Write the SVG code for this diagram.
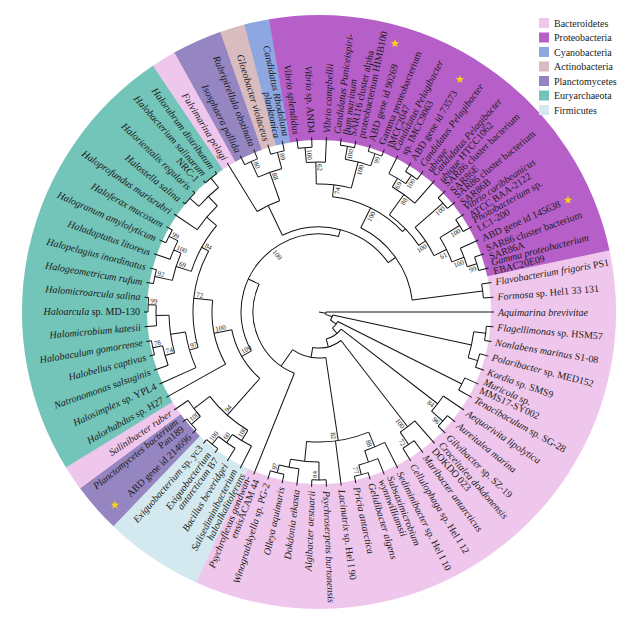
<svg xmlns="http://www.w3.org/2000/svg" width="633" height="632" viewBox="0 0 633 632">
<style>
.L{font-family:"Liberation Serif","Times New Roman",serif;font-size:10px;fill:#1a1a1a}
.R{text-anchor:end}
.i{font-style:italic}
.bs{font-family:"Liberation Serif","Times New Roman",serif;font-size:7px;fill:#1a1a1a}
.be{text-anchor:end}
#connectors line,#connectors circle{stroke:#111;stroke-width:1;fill:none}
.lg{font-family:"Liberation Serif","Times New Roman",serif;font-size:10px;fill:#222}
</style>
<defs>
<polygon id="star" points="0,-4.5 1.06,-1.46 4.28,-1.39 1.71,0.56 2.65,3.64 0,1.8 -2.65,3.64 -1.71,0.56 -4.28,-1.39 -1.06,-1.46" fill="#f7d417"/>
</defs>
<rect width="633" height="632" fill="#fff"/>
<g transform="translate(319,312)">
<g id="clades" fill="none" stroke-width="125">
<circle r="234.5" stroke="#f0c7ec" stroke-dasharray="518.2 2000" transform="rotate(-12.14)"/>
<circle r="234.5" stroke="#d3e9ef" stroke-dasharray="80.1 2000" transform="rotate(114.36)"/>
<circle r="234.5" stroke="#9585c0" stroke-dasharray="40.2 2000" transform="rotate(133.82)"/>
<circle r="234.5" stroke="#f0c7ec" stroke-dasharray="20.3 2000" transform="rotate(143.55)"/>
<circle r="234.5" stroke="#73c4b9" stroke-dasharray="358.8 2000" transform="rotate(148.42)"/>
<circle r="234.5" stroke="#f0c7ec" stroke-dasharray="20.3 2000" transform="rotate(235.99)"/>
<circle r="234.5" stroke="#9585c0" stroke-dasharray="40.2 2000" transform="rotate(240.85)"/>
<circle r="234.5" stroke="#d9bcbf" stroke-dasharray="20.3 2000" transform="rotate(250.58)"/>
<circle r="234.5" stroke="#8fa7e0" stroke-dasharray="20.3 2000" transform="rotate(255.45)"/>
<circle r="234.5" stroke="#b65fc8" stroke-dasharray="358.7 2000" transform="rotate(260.31)"/>
</g>
<g id="connectors">
<line x1="0" x2="7" transform="rotate(10)"/>
<circle r="7" stroke-dasharray="2.44 2000" transform="rotate(0)"/>
<circle r="14" stroke-dasharray="5.58 2000" transform="rotate(12.17)"/>
<circle r="21" stroke-dasharray="8.52 2000" transform="rotate(26.76)"/>
<circle r="28" stroke-dasharray="18.22 2000" transform="rotate(37.71)"/>
<circle r="36" stroke-dasharray="29.97 2000" transform="rotate(52.3)"/>
<circle r="46" stroke-dasharray="34.92 2000" transform="rotate(81.5)"/>
<circle r="66" stroke-dasharray="107.24 2000" transform="rotate(111.9)"/>
<circle r="78" stroke-dasharray="182.97 2000" transform="rotate(150.11)"/>
<circle r="89" stroke-dasharray="57.27 2000" transform="rotate(131.67)"/>
<circle r="85" stroke-dasharray="118.8 2000" transform="rotate(244.47)"/>
<circle r="94" stroke-dasharray="92.4 2000" transform="rotate(296.39)"/>
<circle r="116" stroke-dasharray="79.73 2000" transform="rotate(276.7)"/>
<circle r="120" stroke-dasharray="42.68 2000" transform="rotate(305.89)"/>
<circle r="165" stroke-dasharray="14.02 2000" transform="rotate(350.27)"/>
<circle r="165" stroke-dasharray="14.02 2000" transform="rotate(262.71)"/>
<circle r="150" stroke-dasharray="19.09 2000" transform="rotate(265.15)"/>
<circle r="168" stroke-dasharray="14.25 2000" transform="rotate(277.31)"/>
<circle r="168" stroke-dasharray="14.25 2000" transform="rotate(287.04)"/>
<circle r="155" stroke-dasharray="26.32 2000" transform="rotate(279.74)"/>
<circle r="128" stroke-dasharray="35.34 2000" transform="rotate(268.79)"/>
<circle r="165" stroke-dasharray="14.02 2000" transform="rotate(301.63)"/>
<circle r="155" stroke-dasharray="19.75 2000" transform="rotate(296.77)"/>
<circle r="145" stroke-dasharray="27.69 2000" transform="rotate(300.42)"/>
<circle r="165" stroke-dasharray="14 2000" transform="rotate(316.23)"/>
<circle r="165" stroke-dasharray="14 2000" transform="rotate(325.96)"/>
<circle r="165" stroke-dasharray="14.02 2000" transform="rotate(340.55)"/>
<circle r="155" stroke-dasharray="19.75 2000" transform="rotate(335.69)"/>
<circle r="142" stroke-dasharray="27.14 2000" transform="rotate(328.39)"/>
<circle r="128" stroke-dasharray="33.98 2000" transform="rotate(318.66)"/>
<circle r="165" stroke-dasharray="14.02 2000" transform="rotate(243.25)"/>
<circle r="165" stroke-dasharray="14.02 2000" transform="rotate(252.98)"/>
<circle r="148" stroke-dasharray="25.13 2000" transform="rotate(245.69)"/>
<circle r="118" stroke-dasharray="25.04 2000" transform="rotate(238.39)"/>
<circle r="107" stroke-dasharray="66.17 2000" transform="rotate(150.82)"/>
<circle r="126" stroke-dasharray="99.64 2000" transform="rotate(163.59)"/>
<circle r="135" stroke-dasharray="37.27 2000" transform="rotate(155.68)"/>
<circle r="150" stroke-dasharray="38.2 2000" transform="rotate(164.2)"/>
<circle r="160" stroke-dasharray="20.39 2000" transform="rotate(160.55)"/>
<circle r="170" stroke-dasharray="14.45 2000" transform="rotate(165.41)"/>
<circle r="163" stroke-dasharray="20.77 2000" transform="rotate(175.14)"/>
<circle r="171" stroke-dasharray="14.5 2000" transform="rotate(180.01)"/>
<circle r="134" stroke-dasharray="52.62 2000" transform="rotate(197.65)"/>
<circle r="150" stroke-dasharray="28.67 2000" transform="rotate(192.17)"/>
<circle r="168" stroke-dasharray="14.25 2000" transform="rotate(189.74)"/>
<circle r="158" stroke-dasharray="20.13 2000" transform="rotate(199.47)"/>
<circle r="168" stroke-dasharray="14.28 2000" transform="rotate(204.33)"/>
<circle r="147" stroke-dasharray="31.22 2000" transform="rotate(214.06)"/>
<circle r="160" stroke-dasharray="27.17 2000" transform="rotate(221.36)"/>
<circle r="172" stroke-dasharray="14.59 2000" transform="rotate(218.93)"/>
<circle r="172" stroke-dasharray="14.59 2000" transform="rotate(228.66)"/>
<circle r="138" stroke-dasharray="51.28 2000" transform="rotate(121.02)"/>
<circle r="150" stroke-dasharray="22.31 2000" transform="rotate(116.76)"/>
<circle r="160" stroke-dasharray="20.39 2000" transform="rotate(121.63)"/>
<circle r="170" stroke-dasharray="14.45 2000" transform="rotate(126.49)"/>
<circle r="158" stroke-dasharray="20.1 2000" transform="rotate(138.66)"/>
<circle r="170" stroke-dasharray="14.45 2000" transform="rotate(136.22)"/>
<circle r="156" stroke-dasharray="26.49 2000" transform="rotate(7.3)"/>
<circle r="168" stroke-dasharray="14.25 2000" transform="rotate(4.87)"/>
<circle r="166" stroke-dasharray="14.08 2000" transform="rotate(14.6)"/>
<circle r="160" stroke-dasharray="13.57 2000" transform="rotate(24.33)"/>
<circle r="150" stroke-dasharray="19.11 2000" transform="rotate(34.06)"/>
<circle r="165" stroke-dasharray="14.02 2000" transform="rotate(38.92)"/>
<circle r="145" stroke-dasharray="18.47 2000" transform="rotate(48.65)"/>
<circle r="160" stroke-dasharray="13.57 2000" transform="rotate(53.52)"/>
<circle r="130" stroke-dasharray="63.46 2000" transform="rotate(67.51)"/>
<circle r="146" stroke-dasharray="21.69 2000" transform="rotate(63.25)"/>
<circle r="158" stroke-dasharray="20.13 2000" transform="rotate(68.11)"/>
<circle r="168" stroke-dasharray="14.25 2000" transform="rotate(72.98)"/>
<circle r="150" stroke-dasharray="28.64 2000" transform="rotate(90.01)"/>
<circle r="168" stroke-dasharray="14.28 2000" transform="rotate(87.57)"/>
<circle r="158" stroke-dasharray="20.13 2000" transform="rotate(97.3)"/>
<circle r="166" stroke-dasharray="14.08 2000" transform="rotate(102.17)"/>
<line x1="7" x2="175" transform="rotate(0)"/>
<line x1="7" x2="14" transform="rotate(20)"/>
<line x1="14" x2="156" transform="rotate(12.17)"/>
<line x1="14" x2="21" transform="rotate(35)"/>
<line x1="21" x2="160" transform="rotate(26.76)"/>
<line x1="21" x2="28" transform="rotate(50)"/>
<line x1="28" x2="150" transform="rotate(37.71)"/>
<line x1="28" x2="36" transform="rotate(75)"/>
<line x1="36" x2="145" transform="rotate(52.3)"/>
<line x1="36" x2="46" transform="rotate(100)"/>
<line x1="46" x2="130" transform="rotate(81.5)"/>
<line x1="46" x2="66" transform="rotate(125)"/>
<line x1="66" x2="175" transform="rotate(111.9)"/>
<line x1="66" x2="78" transform="rotate(205)"/>
<line x1="78" x2="89" transform="rotate(150.11)"/>
<line x1="78" x2="85" transform="rotate(284.51)"/>
<line x1="89" x2="138" transform="rotate(131.67)"/>
<line x1="89" x2="107" transform="rotate(168.54)"/>
<line x1="85" x2="118" transform="rotate(244.47)"/>
<line x1="85" x2="94" transform="rotate(324.55)"/>
<line x1="94" x2="116" transform="rotate(296.39)"/>
<line x1="94" x2="165" transform="rotate(352.71)"/>
<line x1="165" x2="175" transform="rotate(350.27)"/>
<line x1="165" x2="175" transform="rotate(355.14)"/>
<line x1="116" x2="128" transform="rotate(276.7)"/>
<line x1="116" x2="120" transform="rotate(316.08)"/>
<line x1="128" x2="150" transform="rotate(268.79)"/>
<line x1="128" x2="155" transform="rotate(284.61)"/>
<line x1="150" x2="165" transform="rotate(265.15)"/>
<line x1="150" x2="175" transform="rotate(272.44)"/>
<line x1="165" x2="175" transform="rotate(262.71)"/>
<line x1="165" x2="175" transform="rotate(267.58)"/>
<line x1="155" x2="168" transform="rotate(279.74)"/>
<line x1="155" x2="168" transform="rotate(289.47)"/>
<line x1="168" x2="175" transform="rotate(277.31)"/>
<line x1="168" x2="175" transform="rotate(282.17)"/>
<line x1="168" x2="175" transform="rotate(287.04)"/>
<line x1="168" x2="175" transform="rotate(291.9)"/>
<line x1="120" x2="145" transform="rotate(305.89)"/>
<line x1="120" x2="128" transform="rotate(326.27)"/>
<line x1="145" x2="155" transform="rotate(300.42)"/>
<line x1="145" x2="175" transform="rotate(311.36)"/>
<line x1="155" x2="175" transform="rotate(296.77)"/>
<line x1="155" x2="165" transform="rotate(304.07)"/>
<line x1="165" x2="175" transform="rotate(301.63)"/>
<line x1="165" x2="175" transform="rotate(306.5)"/>
<line x1="128" x2="165" transform="rotate(318.66)"/>
<line x1="128" x2="142" transform="rotate(333.87)"/>
<line x1="165" x2="175" transform="rotate(316.23)"/>
<line x1="165" x2="175" transform="rotate(321.09)"/>
<line x1="142" x2="165" transform="rotate(328.39)"/>
<line x1="142" x2="155" transform="rotate(339.34)"/>
<line x1="165" x2="175" transform="rotate(325.96)"/>
<line x1="165" x2="175" transform="rotate(330.82)"/>
<line x1="155" x2="175" transform="rotate(335.69)"/>
<line x1="155" x2="165" transform="rotate(342.99)"/>
<line x1="165" x2="175" transform="rotate(340.55)"/>
<line x1="165" x2="175" transform="rotate(345.42)"/>
<line x1="118" x2="175" transform="rotate(238.39)"/>
<line x1="118" x2="148" transform="rotate(250.55)"/>
<line x1="148" x2="165" transform="rotate(245.69)"/>
<line x1="148" x2="165" transform="rotate(255.42)"/>
<line x1="165" x2="175" transform="rotate(243.25)"/>
<line x1="165" x2="175" transform="rotate(248.12)"/>
<line x1="165" x2="175" transform="rotate(252.98)"/>
<line x1="165" x2="175" transform="rotate(257.85)"/>
<line x1="107" x2="175" transform="rotate(150.82)"/>
<line x1="107" x2="126" transform="rotate(186.25)"/>
<line x1="126" x2="135" transform="rotate(163.59)"/>
<line x1="126" x2="134" transform="rotate(208.9)"/>
<line x1="135" x2="175" transform="rotate(155.68)"/>
<line x1="135" x2="150" transform="rotate(171.5)"/>
<line x1="150" x2="160" transform="rotate(164.2)"/>
<line x1="150" x2="163" transform="rotate(178.79)"/>
<line x1="160" x2="175" transform="rotate(160.55)"/>
<line x1="160" x2="170" transform="rotate(167.85)"/>
<line x1="170" x2="175" transform="rotate(165.41)"/>
<line x1="170" x2="175" transform="rotate(170.28)"/>
<line x1="163" x2="175" transform="rotate(175.14)"/>
<line x1="163" x2="171" transform="rotate(182.44)"/>
<line x1="171" x2="175" transform="rotate(180.01)"/>
<line x1="171" x2="175" transform="rotate(184.87)"/>
<line x1="134" x2="150" transform="rotate(197.65)"/>
<line x1="134" x2="147" transform="rotate(220.15)"/>
<line x1="150" x2="168" transform="rotate(192.17)"/>
<line x1="150" x2="158" transform="rotate(203.12)"/>
<line x1="168" x2="175" transform="rotate(189.74)"/>
<line x1="168" x2="175" transform="rotate(194.6)"/>
<line x1="158" x2="175" transform="rotate(199.47)"/>
<line x1="158" x2="168" transform="rotate(206.77)"/>
<line x1="168" x2="175" transform="rotate(204.33)"/>
<line x1="168" x2="175" transform="rotate(209.2)"/>
<line x1="147" x2="175" transform="rotate(214.06)"/>
<line x1="147" x2="160" transform="rotate(226.23)"/>
<line x1="160" x2="172" transform="rotate(221.36)"/>
<line x1="160" x2="172" transform="rotate(231.09)"/>
<line x1="172" x2="175" transform="rotate(218.93)"/>
<line x1="172" x2="175" transform="rotate(223.79)"/>
<line x1="172" x2="175" transform="rotate(228.66)"/>
<line x1="172" x2="175" transform="rotate(233.52)"/>
<line x1="138" x2="150" transform="rotate(121.02)"/>
<line x1="138" x2="158" transform="rotate(142.31)"/>
<line x1="150" x2="175" transform="rotate(116.76)"/>
<line x1="150" x2="160" transform="rotate(125.28)"/>
<line x1="160" x2="175" transform="rotate(121.63)"/>
<line x1="160" x2="170" transform="rotate(128.93)"/>
<line x1="170" x2="175" transform="rotate(126.49)"/>
<line x1="170" x2="175" transform="rotate(131.36)"/>
<line x1="158" x2="170" transform="rotate(138.66)"/>
<line x1="158" x2="175" transform="rotate(145.95)"/>
<line x1="170" x2="175" transform="rotate(136.22)"/>
<line x1="170" x2="175" transform="rotate(141.09)"/>
<line x1="156" x2="168" transform="rotate(7.3)"/>
<line x1="156" x2="166" transform="rotate(17.03)"/>
<line x1="168" x2="175" transform="rotate(4.87)"/>
<line x1="168" x2="175" transform="rotate(9.73)"/>
<line x1="166" x2="175" transform="rotate(14.6)"/>
<line x1="166" x2="175" transform="rotate(19.46)"/>
<line x1="160" x2="175" transform="rotate(24.33)"/>
<line x1="160" x2="175" transform="rotate(29.19)"/>
<line x1="150" x2="175" transform="rotate(34.06)"/>
<line x1="150" x2="165" transform="rotate(41.36)"/>
<line x1="165" x2="175" transform="rotate(38.92)"/>
<line x1="165" x2="175" transform="rotate(43.79)"/>
<line x1="145" x2="175" transform="rotate(48.65)"/>
<line x1="145" x2="160" transform="rotate(55.95)"/>
<line x1="160" x2="175" transform="rotate(53.52)"/>
<line x1="160" x2="175" transform="rotate(58.38)"/>
<line x1="130" x2="146" transform="rotate(67.51)"/>
<line x1="130" x2="175" transform="rotate(82.71)"/>
<line x1="130" x2="150" transform="rotate(95.48)"/>
<line x1="146" x2="175" transform="rotate(63.25)"/>
<line x1="146" x2="158" transform="rotate(71.76)"/>
<line x1="158" x2="175" transform="rotate(68.11)"/>
<line x1="158" x2="168" transform="rotate(75.41)"/>
<line x1="168" x2="175" transform="rotate(72.98)"/>
<line x1="168" x2="175" transform="rotate(77.84)"/>
<line x1="150" x2="168" transform="rotate(90.01)"/>
<line x1="150" x2="158" transform="rotate(100.95)"/>
<line x1="168" x2="175" transform="rotate(87.57)"/>
<line x1="168" x2="175" transform="rotate(92.44)"/>
<line x1="158" x2="175" transform="rotate(97.3)"/>
<line x1="158" x2="166" transform="rotate(104.6)"/>
<line x1="166" x2="175" transform="rotate(102.17)"/>
<line x1="166" x2="175" transform="rotate(107.03)"/>
</g>
<g id="bootstrap">
<text class="bs be" transform="rotate(41.36) translate(163)" y="6.5">96</text>
<text class="bs be" transform="rotate(37.71) translate(148)" y="6.5">84</text>
<text class="bs be" transform="rotate(55.95) translate(158)" y="6.5">72</text>
<text class="bs be" transform="rotate(52.3) translate(143)" y="6.5">100</text>
<text class="bs be" transform="rotate(75.41) translate(166)" y="6.5">77</text>
<text class="bs be" transform="rotate(67.51) translate(144)" y="6.5">88</text>
<text class="bs be" transform="rotate(81.5) translate(128)" y="6.5">82</text>
<text class="bs" transform="rotate(90.01) translate(166) rotate(180)" y="-1.5">84</text>
<text class="bs" transform="rotate(104.6) translate(164) rotate(180)" y="-1.5">97</text>
<text class="bs" transform="rotate(128.93) translate(168) rotate(180)" y="-1.5">100</text>
<text class="bs" transform="rotate(125.28) translate(158) rotate(180)" y="-1.5">60</text>
<text class="bs" transform="rotate(121.02) translate(148) rotate(180)" y="-1.5">100</text>
<text class="bs" transform="rotate(138.66) translate(168) rotate(180)" y="-1.5">100</text>
<text class="bs" transform="rotate(131.67) translate(136) rotate(180)" y="-1.5">94</text>
<text class="bs" transform="rotate(167.85) translate(168) rotate(180)" y="-1.5">78</text>
<text class="bs" transform="rotate(164.2) translate(158) rotate(180)" y="-1.5">74</text>
<text class="bs" transform="rotate(182.44) translate(169) rotate(180)" y="-1.5">99</text>
<text class="bs" transform="rotate(163.59) translate(133) rotate(180)" y="-1.5">97</text>
<text class="bs" transform="rotate(192.17) translate(166) rotate(180)" y="-1.5">92</text>
<text class="bs" transform="rotate(206.77) translate(166) rotate(180)" y="-1.5">99</text>
<text class="bs" transform="rotate(203.12) translate(156) rotate(180)" y="-1.5">100</text>
<text class="bs" transform="rotate(197.65) translate(148) rotate(180)" y="-1.5">69</text>
<text class="bs" transform="rotate(208.9) translate(132) rotate(180)" y="-1.5">84</text>
<text class="bs" transform="rotate(186.25) translate(124) rotate(180)" y="-1.5">72</text>
<text class="bs" transform="rotate(168.54) translate(105) rotate(180)" y="-1.5">100</text>
<text class="bs" transform="rotate(150.11) translate(87) rotate(180)" y="-1.5">100</text>
<text class="bs" transform="rotate(231) translate(76) rotate(180)" y="-1.5">100</text>
<text class="bs" transform="rotate(245.69) translate(163) rotate(180)" y="-1.5">80</text>
<text class="bs" transform="rotate(255.42) translate(163) rotate(180)" y="-1.5">89</text>
<text class="bs" transform="rotate(250.55) translate(146) rotate(180)" y="-1.5">88</text>
<text class="bs" transform="rotate(265.15) translate(163) rotate(180)" y="-1.5">100</text>
<text class="bs" transform="rotate(268.79) translate(148) rotate(180)" y="-1.5">62</text>
<text class="bs be" transform="rotate(279.74) translate(166)" y="6.5">100</text>
<text class="bs be" transform="rotate(289.47) translate(166)" y="6.5">99</text>
<text class="bs be" transform="rotate(284.61) translate(153)" y="6.5">100</text>
<text class="bs be" transform="rotate(276.7) translate(126)" y="6.5">74</text>
<text class="bs be" transform="rotate(304.07) translate(163)" y="6.5">100</text>
<text class="bs be" transform="rotate(300.42) translate(153)" y="6.5">69</text>
<text class="bs be" transform="rotate(305.89) translate(143)" y="6.5">88</text>
<text class="bs be" transform="rotate(318.66) translate(163)" y="6.5">100</text>
<text class="bs be" transform="rotate(328.39) translate(163)" y="6.5">100</text>
<text class="bs be" transform="rotate(342.99) translate(163)" y="6.5">99</text>
<text class="bs be" transform="rotate(339.34) translate(153)" y="6.5">100</text>
<text class="bs be" transform="rotate(333.87) translate(140)" y="6.5">61</text>
<text class="bs be" transform="rotate(326.27) translate(126)" y="6.5">100</text>
<text class="bs be" transform="rotate(296.39) translate(114)" y="6.5">100</text>
</g>
<g id="leaves">
<g id="k0"><text class="L" transform="rotate(-9.73) translate(179)" y="3.5"><tspan class="i">Flavobacterium frigoris</tspan> PS1</text></g>
<g id="k1"><text class="L" transform="rotate(-4.87) translate(179)" y="3.5"><tspan class="i">Formosa</tspan> sp. Hel1 33 131</text></g>
<g id="k2"><text class="L i" transform="rotate(0) translate(179)" y="3.5">Aquimarina brevivitae</text></g>
<g id="k3"><text class="L" transform="rotate(4.87) translate(179)" y="3.5"><tspan class="i">Flagellimonas</tspan> sp. HSM57</text></g>
<g id="k4"><text class="L" transform="rotate(9.73) translate(179)" y="3.5"><tspan class="i">Nonlabens marinus</tspan> S1-08</text></g>
<g id="k5"><text class="L" transform="rotate(14.6) translate(179)" y="3.5"><tspan class="i">Polaribacter</tspan> sp. MED152</text></g>
<g id="k6"><text class="L" transform="rotate(19.46) translate(179)" y="3.5"><tspan class="i">Kordia</tspan> sp. SMS9</text></g>
<g id="k7"><text class="L" transform="rotate(24.33) translate(179)"><tspan x="0" y="-1.3"><tspan class="i">Muricola</tspan> sp.</tspan><tspan x="0" y="7.9">MMS17-SY002</tspan></text></g>
<g id="k8"><text class="L" transform="rotate(29.19) translate(179)" y="3.5"><tspan class="i">Tenacibaculum</tspan> sp. SG-28</text></g>
<g id="k9"><text class="L i" transform="rotate(34.06) translate(179)" y="3.5">Aequorivita lipolytica</text></g>
<g id="k10"><text class="L i" transform="rotate(38.92) translate(179)" y="3.5">Aureitalea marina</text></g>
<g id="k11"><text class="L" transform="rotate(43.79) translate(179)" y="3.5"><tspan class="i">Gilvibacter</tspan> sp. SZ-19</text></g>
<g id="k12"><text class="L" transform="rotate(48.65) translate(179)"><tspan x="0" y="-1.3" class="i">Croceitalea dokdonensis</tspan><tspan x="0" y="7.9">DOKDO 023</tspan></text></g>
<g id="k13"><text class="L i" transform="rotate(53.52) translate(179)" y="3.5">Maribacter antarcticus</text></g>
<g id="k14"><text class="L" transform="rotate(58.38) translate(179)" y="3.5"><tspan class="i">Cellulophaga</tspan> sp. Hel I 12</text></g>
<g id="k15"><text class="L" transform="rotate(63.25) translate(179)" y="3.5"><tspan class="i">Sediminibacter</tspan> sp. Hel I 10</text></g>
<g id="k16"><text class="L i" transform="rotate(68.11) translate(179)"><tspan x="0" y="-1.3">Subsaximicrobium</tspan><tspan x="0" y="7.9">wynnwilliamsii</tspan></text></g>
<g id="k17"><text class="L i" transform="rotate(72.98) translate(179)" y="3.5">Gelidibacter algens</text></g>
<g id="k18"><text class="L i" transform="rotate(77.84) translate(179)" y="3.5">Pricia antarctica</text></g>
<g id="k19"><text class="L" transform="rotate(82.71) translate(179)" y="3.5"><tspan class="i">Lacinutrix</tspan> sp. Hel I 90</text></g>
<g id="k20"><text class="L i" transform="rotate(87.57) translate(179)" y="3.5">Psychroserpens burtonensis</text></g>
<g id="k21"><text class="L R i" transform="rotate(92.44) translate(179) rotate(180)" y="3.5">Algibacter aestuarii</text></g>
<g id="k22"><text class="L R i" transform="rotate(97.3) translate(179) rotate(180)" y="3.5">Dokdonia eikasta</text></g>
<g id="k23"><text class="L R i" transform="rotate(102.17) translate(179) rotate(180)" y="3.5">Olleya aquimaris</text></g>
<g id="k24"><text class="L R" transform="rotate(107.03) translate(179) rotate(180)" y="3.5"><tspan class="i">Winogradskyella</tspan> sp. PG-2</text></g>
<g id="k25"><text class="L R" transform="rotate(111.9) translate(179) rotate(180)"><tspan x="0" y="-1.3" class="i">Psychroflexus gondwan-</tspan><tspan x="0" y="7.9"><tspan class="i">ensis</tspan>ACAM 44</tspan></text></g>
<g id="k26"><text class="L R i" transform="rotate(116.76) translate(179) rotate(180)"><tspan x="0" y="-1.3">Salisediminibacterium</tspan><tspan x="0" y="7.9">haloalkalitolerans</tspan></text></g>
<g id="k27"><text class="L R i" transform="rotate(121.63) translate(179) rotate(180)" y="3.5">Bacillus beveridgei</text></g>
<g id="k28"><text class="L R" transform="rotate(126.49) translate(179) rotate(180)"><tspan x="0" y="-1.3" class="i">Exiguobacterium</tspan><tspan x="0" y="7.9"><tspan class="i">antarcticum</tspan> B7</tspan></text></g>
<g id="k29"><text class="L R" transform="rotate(131.36) translate(179) rotate(180)" y="3.5"><tspan class="i">Exiguobacterium</tspan> sp. yc3</text></g>
<g id="k30"><text class="L R" transform="rotate(136.22) translate(179) rotate(180)" y="3.5">ABD gene id 214696</text><use href="#star" transform="rotate(136.6) translate(281) rotate(-136.6)"/></g>
<g id="k31"><text class="L R" transform="rotate(141.09) translate(179) rotate(180)"><tspan x="0" y="-1.3" class="i">Planctomycetes bacterium</tspan><tspan x="0" y="7.9">Pan189</tspan></text></g>
<g id="k32"><text class="L R i" transform="rotate(145.95) translate(179) rotate(180)" y="3.5">Salinibacter ruber</text></g>
<g id="k33"><text class="L R" transform="rotate(150.82) translate(179) rotate(180)" y="3.5"><tspan class="i">Halorhabdus</tspan> sp. H27</text></g>
<g id="k34"><text class="L R" transform="rotate(155.68) translate(179) rotate(180)" y="3.5"><tspan class="i">Halosimplex</tspan> sp. YPL4</text></g>
<g id="k35"><text class="L R i" transform="rotate(160.55) translate(179) rotate(180)" y="3.5">Natronomonas salsuginis</text></g>
<g id="k36"><text class="L R i" transform="rotate(165.41) translate(179) rotate(180)" y="3.5">Halobellus captivus</text></g>
<g id="k37"><text class="L R i" transform="rotate(170.28) translate(179) rotate(180)" y="3.5">Halobaculum gomorrense</text></g>
<g id="k38"><text class="L R i" transform="rotate(175.14) translate(179) rotate(180)" y="3.5">Halomicrobium katesii</text></g>
<g id="k39"><text class="L R" transform="rotate(180.01) translate(179) rotate(180)" y="3.5"><tspan class="i">Haloarcula</tspan> sp. MD-130</text></g>
<g id="k40"><text class="L R i" transform="rotate(184.87) translate(179) rotate(180)" y="3.5">Halomicroarcula salina</text></g>
<g id="k41"><text class="L R i" transform="rotate(189.74) translate(179) rotate(180)" y="3.5">Halogeometricum rufum</text></g>
<g id="k42"><text class="L R i" transform="rotate(194.6) translate(179) rotate(180)" y="3.5">Halopelagius inordinatus</text></g>
<g id="k43"><text class="L R i" transform="rotate(199.47) translate(179) rotate(180)" y="3.5">Haladaptatus litoreus</text></g>
<g id="k44"><text class="L R i" transform="rotate(204.33) translate(179) rotate(180)" y="3.5">Halogranum amylolyticum</text></g>
<g id="k45"><text class="L R i" transform="rotate(209.2) translate(179) rotate(180)" y="3.5">Haloferax mucosum</text></g>
<g id="k46"><text class="L R i" transform="rotate(214.06) translate(179) rotate(180)" y="3.5">Haloprofundus marisrubri</text></g>
<g id="k47"><text class="L R i" transform="rotate(218.93) translate(179) rotate(180)" y="3.5">Halostella salina</text></g>
<g id="k48"><text class="L R i" transform="rotate(223.79) translate(179) rotate(180)" y="3.5">Halorientalis regularis</text></g>
<g id="k49"><text class="L R" transform="rotate(228.66) translate(179) rotate(180)"><tspan x="0" y="-1.3" class="i">Halobacterium salinarum</tspan><tspan x="0" y="7.9">NRC-1</tspan></text></g>
<g id="k50"><text class="L R i" transform="rotate(233.52) translate(179) rotate(180)" y="3.5">Halorubrum distributum</text></g>
<g id="k51"><text class="L R i" transform="rotate(238.39) translate(179) rotate(180)" y="3.5">Fulvimarina pelagi</text></g>
<g id="k52"><text class="L R i" transform="rotate(243.25) translate(179) rotate(180)" y="3.5">Isosphaera pallida</text></g>
<g id="k53"><text class="L R i" transform="rotate(248.12) translate(179) rotate(180)" y="3.5">Rubripirellula obstinata</text></g>
<g id="k54"><text class="L R i" transform="rotate(252.98) translate(179) rotate(180)" y="3.5">Gloeobacter violaceus</text></g>
<g id="k55"><text class="L R i" transform="rotate(257.85) translate(179) rotate(180)"><tspan x="0" y="-1.3">Candidatus Rhodoluna</tspan><tspan x="0" y="7.9">planktonica</tspan></text></g>
<g id="k56"><text class="L R i" transform="rotate(262.71) translate(179) rotate(180)" y="3.5">Vibrio splendidus</text></g>
<g id="k57"><text class="L R" transform="rotate(267.58) translate(179) rotate(180)" y="3.5"><tspan class="i">Vibrio</tspan> sp. AND4</text></g>
<g id="k58"><text class="L i" transform="rotate(272.44) translate(179)" y="3.5">Vibrio campbellii</text></g>
<g id="k59"><text class="L i" transform="rotate(277.31) translate(179)"><tspan x="0" y="-1.3">Candidatus Puniceispiri-</tspan><tspan x="0" y="7.9">llum marinum</tspan></text></g>
<g id="k60"><text class="L" transform="rotate(282.17) translate(179)"><tspan x="0" y="-1.3">SAR116 cluster alpha</tspan><tspan x="0" y="7.9">proteobacterium HIMB100</tspan></text></g>
<g id="k61"><text class="L" transform="rotate(287.04) translate(179)" y="3.5">ABD gene id 90269</text><use href="#star" transform="rotate(285.8) translate(279) rotate(-285.8)"/></g>
<g id="k62"><text class="L" transform="rotate(291.9) translate(179)"><tspan x="0" y="-1.3">Gamma proteobacterium</tspan><tspan x="0" y="7.9">IMCC2047</tspan></text></g>
<g id="k63"><text class="L" transform="rotate(296.77) translate(179)"><tspan x="0" y="-1.3" class="i">Candidatus Pelagibacter</tspan><tspan x="0" y="7.9">sp. IMCC9063</tspan></text></g>
<g id="k64"><text class="L" transform="rotate(301.63) translate(179)" y="3.5">ABD gene id 73573</text><use href="#star" transform="rotate(301.2) translate(272) rotate(-301.2)"/></g>
<g id="k65"><text class="L i" transform="rotate(306.5) translate(179)"><tspan x="0" y="-1.3">Candidatus Pelagibacter</tspan><tspan x="0" y="7.9">ubique</tspan></text></g>
<g id="k66"><text class="L" transform="rotate(311.36) translate(179)"><tspan x="0" y="-1.3" class="i">Candidatus Pelagibacter</tspan><tspan x="0" y="7.9"><tspan class="i">ubique</tspan> HTCC1062</tspan></text></g>
<g id="k67"><text class="L" transform="rotate(316.23) translate(179)"><tspan x="0" y="-1.3">SAR86 cluster bacterium</tspan><tspan x="0" y="7.9">SAR86E</tspan></text></g>
<g id="k68"><text class="L" transform="rotate(321.09) translate(179)"><tspan x="0" y="-1.3">SAR86 cluster bacterium</tspan><tspan x="0" y="7.9">SAR86B</tspan></text></g>
<g id="k69"><text class="L" transform="rotate(325.96) translate(179)"><tspan x="0" y="-1.3" class="i">Vibrio caribbeanicus</tspan><tspan x="0" y="7.9">ATCC BAA-2122</tspan></text></g>
<g id="k70"><text class="L" transform="rotate(330.82) translate(179)"><tspan x="0" y="-1.3"><tspan class="i">Photobacterium</tspan> sp.</tspan><tspan x="0" y="7.9">LC1-200</tspan></text></g>
<g id="k71"><text class="L" transform="rotate(335.69) translate(179)" y="3.5">ABD gene id 145638</text><use href="#star" transform="rotate(335.8) translate(273) rotate(-335.8)"/></g>
<g id="k72"><text class="L" transform="rotate(340.55) translate(179)"><tspan x="0" y="-1.3">SAR86 cluster bacterium</tspan><tspan x="0" y="7.9">SAR86A</tspan></text></g>
<g id="k73"><text class="L" transform="rotate(345.42) translate(179)"><tspan x="0" y="-1.3" class="i">Gamma proteobacterium</tspan><tspan x="0" y="7.9">EBAC20E09</tspan></text></g>
</g>
</g>
<g id="legend">
<rect x="539" y="18" width="10" height="10" fill="#f0c7ec"/><text class="lg" x="554" y="26.5">Bacteroidetes</text>
<rect x="539" y="32.5" width="10" height="10" fill="#b65fc8"/><text class="lg" x="554" y="41">Proteobacteria</text>
<rect x="539" y="47" width="10" height="10" fill="#8fa7e0"/><text class="lg" x="554" y="55.5">Cyanobacteria</text>
<rect x="539" y="61.5" width="10" height="10" fill="#d9bcbf"/><text class="lg" x="554" y="70">Actinobacteria</text>
<rect x="539" y="76" width="10" height="10" fill="#9585c0"/><text class="lg" x="554" y="84.5">Planctomycetes</text>
<rect x="539" y="90.5" width="10" height="10" fill="#73c4b9"/><text class="lg" x="554" y="99">Euryarchaeota</text>
<rect x="539" y="105" width="10" height="10" fill="#d3e9ef"/><text class="lg" x="554" y="113.5">Firmicutes</text>
</g>
</svg>
